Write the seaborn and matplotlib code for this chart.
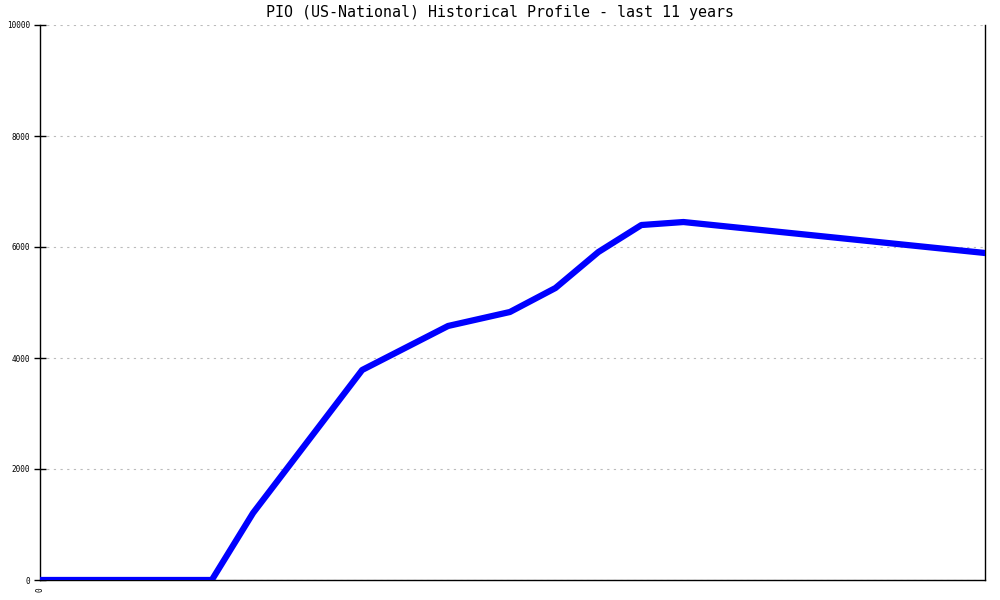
import pandas as pd
import matplotlib
matplotlib.use("Agg")
import matplotlib.pyplot as plt
import seaborn as sns

# Data (x = years since start of window)
years = [0.0, 2.0, 2.48, 3.75, 4.75, 5.47, 6.0, 6.5, 7.0, 7.49, 11.0]
values = [0, 0, 1207, 3784, 4577, 4829, 5261, 5910, 6396, 6450, 5892]
y_ticks = [0, 2000, 4000, 6000, 8000, 10000]
x_ticks = [0]

df = pd.DataFrame({"year": years, "value": values})

sns.set_style("white")
plt.rcParams['font.family'] = ['DejaVu Sans Mono']
plt.rcParams['text.color'] = 'black'
plt.rcParams['xtick.color'] = 'black'
plt.rcParams['ytick.color'] = 'black'

fig = plt.figure(figsize=(10, 6), dpi=100)
ax = fig.add_axes([0.04, 1 - 580 / 600, 0.945, 555 / 600])

sns.lineplot(data=df, x="year", y="value", ax=ax, color="#0000ff",
             linewidth=4.5, solid_joinstyle="round", zorder=3)

ax.set_xlim(0, 11)
ax.set_ylim(0, 10000)
ax.set_yticks(y_ticks)
ax.set_yticklabels([str(t) for t in y_ticks], fontsize=5.5)
ax.set_xticks(x_ticks)
ax.set_xticklabels([str(t) for t in x_ticks], fontsize=5.5, rotation=90)
ax.set_xlabel("")
ax.set_ylabel("")

# grid: dotted light grey at y ticks only
ax.yaxis.grid(True, linestyle=(0, (2, 4)), color="#bbbbbb", linewidth=0.8)
ax.xaxis.grid(False)
ax.set_axisbelow(True)

for side in ["left", "bottom", "right"]:
    ax.spines[side].set_visible(True)
    ax.spines[side].set_color("black")
    ax.spines[side].set_linewidth(1.0)
ax.spines["top"].set_visible(False)

ax.tick_params(axis="y", direction="inout", length=8, width=1, pad=3, left=True)
ax.tick_params(axis="x", direction="out", length=0, pad=5, bottom=True)

# title is centred on the figure, not the axes
fig.text(0.5, 1 - 13 / 600, "PIO (US-National) Historical Profile - last 11 years",
         fontsize=10.8, ha="center", va="center", color="black")

fig.savefig("out.png", dpi=100)
